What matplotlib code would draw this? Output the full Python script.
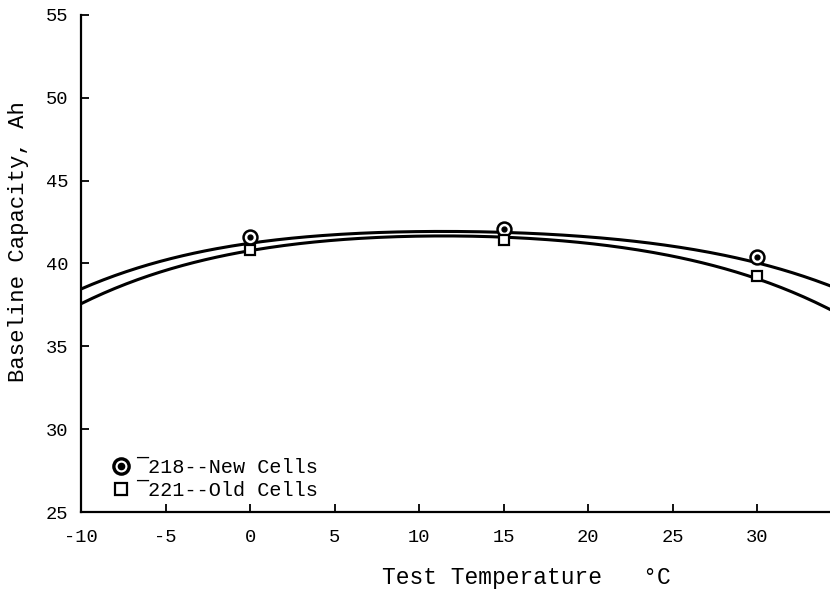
import numpy as np
import matplotlib
matplotlib.use("Agg")
import matplotlib.pyplot as plt
from matplotlib.legend_handler import HandlerTuple

# measured points
temps = [0, 15, 30]
new_cells = [41.6, 42.1, 40.4]
old_cells = [40.8, 41.4, 39.25]

# curves
curve_t = [-10, -7, -3, 0, 5, 10, 15, 20, 25, 27.5, 30, 32, 34.3]
curve_new = [38.6, 39.3, 40.85, 41.25, 41.75, 41.9, 41.85, 41.6, 41.0, 40.6, 40.1, 39.5, 38.6]
curve_old = [37.7, 38.6, 40.3, 40.8, 41.4, 41.65, 41.55, 41.2, 40.4, 39.9, 39.1, 38.3, 37.2]

xticks = [-10, -5, 0, 5, 10, 15, 20, 25, 30]
yticks = [25, 30, 35, 40, 45, 50, 55]

plt.rcParams['font.family'] = ['Liberation Mono', 'DejaVu Sans']
plt.rcParams['axes.unicode_minus'] = False

fig = plt.figure(figsize=(8.3, 5.9), dpi=100)
ax = fig.add_axes([0.0976, 0.132, 0.9024, 0.843])

# smooth the read curves for drawing
tt = np.linspace(-10, 34.3, 200)
f_new = np.poly1d(np.polyfit(curve_t, curve_new, 4))
f_old = np.poly1d(np.polyfit(curve_t, curve_old, 4))
ax.plot(tt, f_new(tt), color='black', lw=2.2)
ax.plot(tt, f_old(tt), color='black', lw=2.2)

ax.plot(temps, new_cells, 'o', ms=10, mfc='white', mec='black', mew=1.8)
ax.plot(temps, new_cells, 'o', ms=3.5, color='black')
ax.plot(temps, old_cells, 's', ms=7.5, mfc='white', mec='black', mew=1.6)

# legend
h1a, = ax.plot([], [], 'o', ms=11, mfc='white', mec='black', mew=2.4)
h1b, = ax.plot([], [], 'o', ms=4.5, color='black')
h2, = ax.plot([], [], 's', ms=8.5, mfc='white', mec='black', mew=1.6)
ax.legend([(h1a, h1b), h2], ['\u00af218--New Cells', '\u00af221--Old Cells'],
          handler_map={tuple: HandlerTuple(ndivide=1, pad=0)},
          loc='lower left', bbox_to_anchor=(0.043, 0.024), frameon=False,
          borderpad=0, borderaxespad=0,
          handlelength=0.8, handletextpad=0.35, labelspacing=0.2,
          prop={'size': 14.5})

ax.set_xlim(-10, 34.3)
ax.set_ylim(25, 55)
ax.set_xticks(xticks)
ax.set_yticks(yticks)
ax.tick_params(direction='in', length=6, width=1.3, labelsize=13.5, pad=9)
ax.tick_params(axis='x', pad=12)
for s in ['top', 'right']:
    ax.spines[s].set_visible(False)
for s in ['left', 'bottom']:
    ax.spines[s].set_linewidth(1.6)

ax.set_xlabel('Test Temperature   \u00b0C', fontsize=16.5)
ax.set_ylabel('Baseline Capacity, Ah', fontsize=16)
ax.xaxis.set_label_coords(0.594, -0.108)
ax.yaxis.set_label_coords(-0.069, 0.543)

fig.savefig('out.png', dpi=100)
